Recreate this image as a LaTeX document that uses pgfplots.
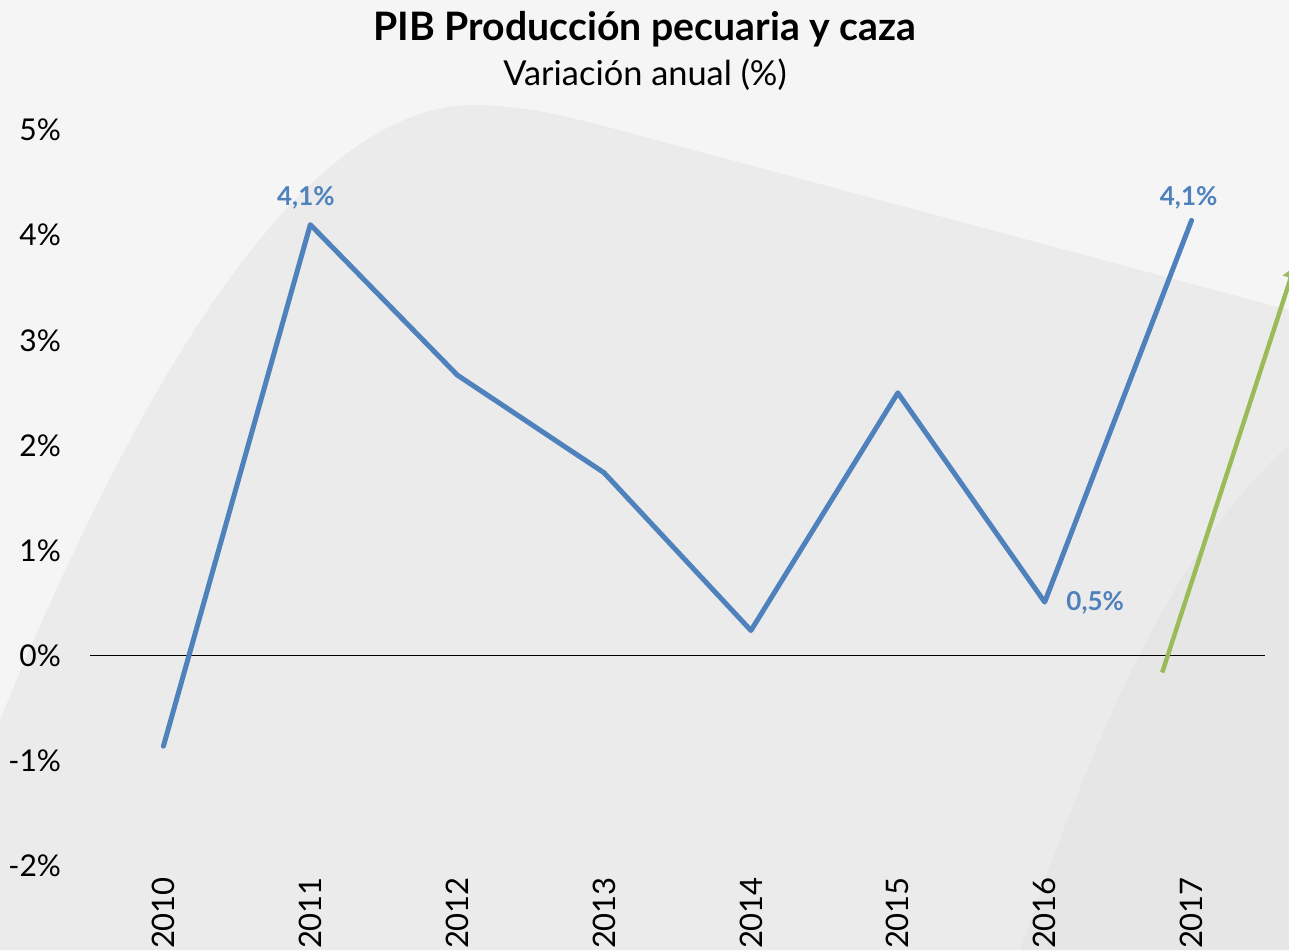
\documentclass[border=0pt]{standalone}
\usepackage{pgfplots}
\pgfplotsset{compat=1.18}
\usetikzlibrary{arrows.meta}
\usepackage{fontspec}
\setmainfont{Lato}
\definecolor{bgA}{HTML}{F5F5F5}
\definecolor{bgB}{HTML}{EBEBEB}
\definecolor{bgC}{HTML}{E6E6E6}
\definecolor{lineblue}{HTML}{4F81BD}
\definecolor{linegreen}{HTML}{9BBB59}
\begin{document}
\begin{tikzpicture}
\useasboundingbox (0,0) rectangle (644.5pt,475pt);
\begin{scope}[yshift=475pt,x=0.5pt,y=-0.5pt]
\fill[bgA] (0,0) rectangle (1289,950);
\fill[bgB] (0,720) .. controls (140,380) and (300,110) .. (470,105)
  .. controls (520,105) and (560,115) .. (600,125) -- (1289,310) -- (1289,950) -- (0,950) -- cycle;
\fill[bgC] (1020,950) .. controls (1080,780) and (1160,560) .. (1289,445) -- (1289,950) -- cycle;
\node[font=\bfseries\fontsize{19.6}{22}\selectfont, anchor=base] at (645,41) {PIB Producción pecuaria y caza};
\node[font=\fontsize{17.2}{20}\selectfont, anchor=base] at (645,86) {Variación anual (\%)};
\end{scope}
\begin{axis}[
  at={(45pt,42pt)}, anchor=south west,
  scale only axis, width=587.5pt, height=368pt,
  xmin=-0.5, xmax=7.5, ymin=-2, ymax=5,
  clip=false,
  axis line style={draw=none},
  tick style={draw=none},
  xtick={0,1,2,3,4,5,6,7},
  xticklabels={2010,2011,2012,2013,2014,2015,2016,2017},
  ytick={-2,-1,0,1,2,3,4,5},
  yticklabels={-2\%,-1\%,0\%,1\%,2\%,3\%,4\%,5\%},
  x tick label style={rotate=90, anchor=east, font=\fontsize{15.5}{17}\selectfont, xshift=-2pt},
  y tick label style={font=\fontsize{15}{17}\selectfont, xshift=-11pt},
]
\addplot[black, line width=0.75pt] coordinates {(-0.5,0) (7.5,0)};
\addplot[lineblue, line width=2.5pt, line join=round, line cap=round] coordinates {
(0,-0.86) (1,4.10) (2,2.67) (3,1.74) (4,0.24) (5,2.50) (6,0.51) (7,4.14)};
\addplot[linegreen, line width=2.2pt, -{Triangle[length=6pt,width=8pt]}] coordinates {(6.80,-0.16) (7.70,3.70)};
\node[lineblue, font=\bfseries\fontsize{13}{15}\selectfont, anchor=south] at (axis cs:0.97,4.10) [yshift=4pt] {4,1\%};
\node[lineblue, font=\bfseries\fontsize{13}{15}\selectfont, anchor=south] at (axis cs:6.98,4.14) [yshift=2pt] {4,1\%};
\node[lineblue, font=\bfseries\fontsize{13}{15}\selectfont, anchor=west] at (axis cs:6.1,0.5) {0,5\%};
\end{axis}
\end{tikzpicture}
\end{document}
